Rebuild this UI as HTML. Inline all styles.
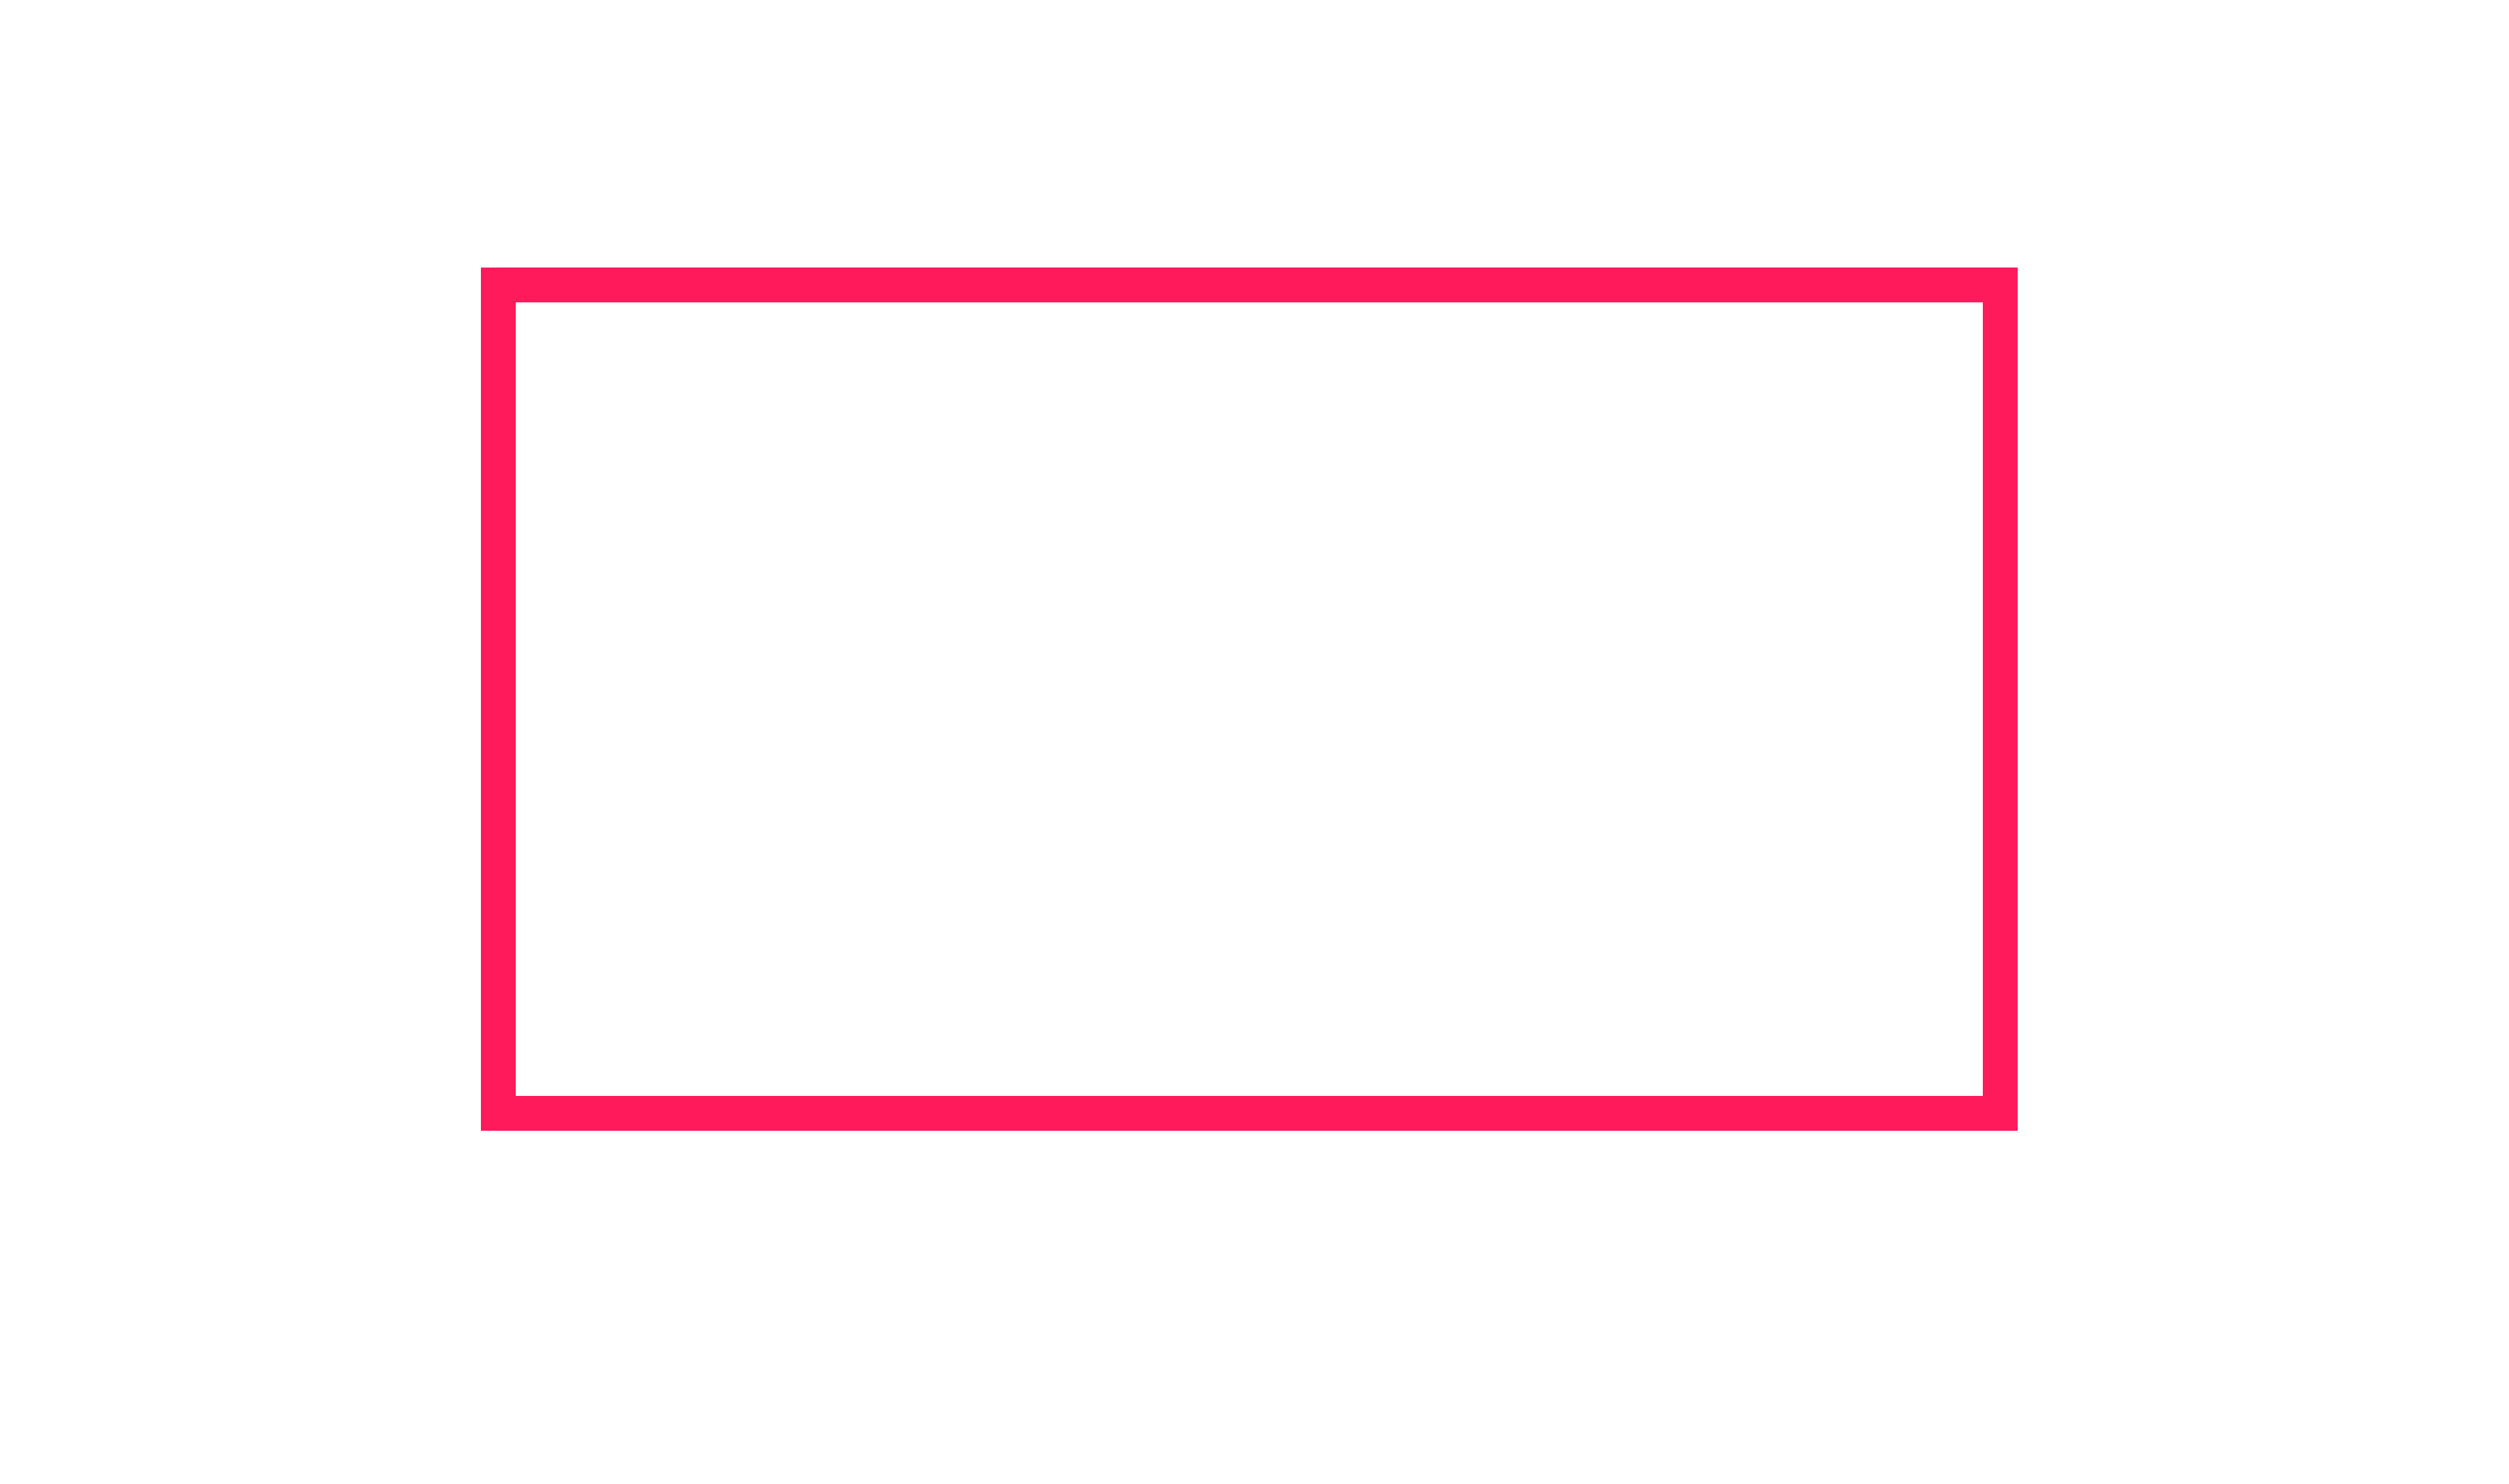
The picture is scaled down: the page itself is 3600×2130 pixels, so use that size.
<!DOCTYPE html>
<html><head><meta charset="utf-8"><style>
html,body{margin:0;padding:0;background:#fff;width:3600px;height:2130px;overflow:hidden}
</style></head><body>
<svg width="3600" height="2130" xmlns="http://www.w3.org/2000/svg">
<rect x="0" y="0" width="3600" height="2130" fill="#ffffff"/>
<rect x="715" y="409" width="2155" height="1189" fill="none" stroke="#ff1a5b" stroke-width="50"/>
</svg>
</body></html>
